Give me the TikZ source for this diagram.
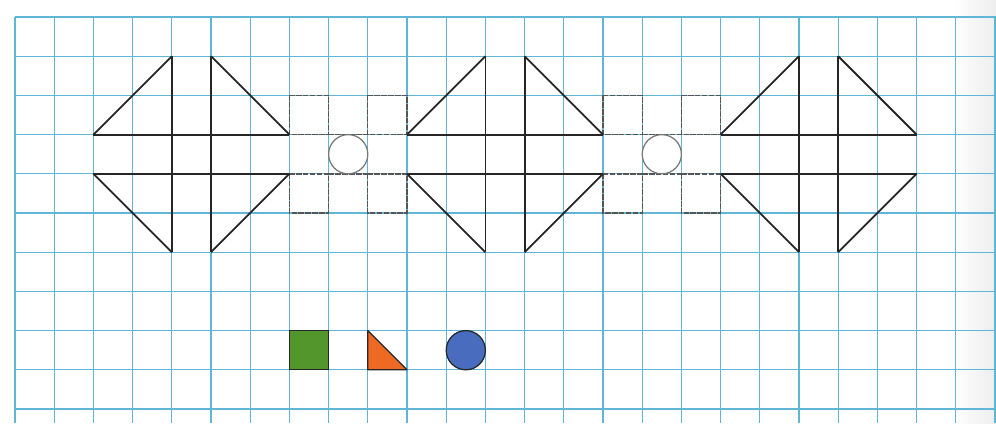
\documentclass[tikz,border=0pt]{standalone}
\definecolor{gridblue}{RGB}{96,182,214}
\definecolor{pencilgray}{RGB}{85,85,85}
\definecolor{shapegreen}{RGB}{82,150,44}
\definecolor{shapeorange}{RGB}{238,106,36}
\definecolor{shapeblue}{RGB}{74,108,190}
\begin{document}
\begin{tikzpicture}[x=1cm,y=1cm,
  gridline/.style={draw=gridblue, line width=0.9pt},
  figline/.style={draw=black!85, line width=1.3pt, line join=miter},
  pencil/.style={draw=pencilgray, line width=1pt, dash pattern=on 4pt off 1pt},
  shadeline/.style={line width=0.9pt, draw=black!85}]
\useasboundingbox (-0.383,0.434) rectangle (25.026,-10.357);
\fill[white] (-0.383,0.434) rectangle (25.026,-10.357);
\shade[left color=white, right color=black!7] (23.9,0.434) rectangle (25.026,-10.357);
% grid
\foreach \i in {0,...,25} \draw[gridline] (\i,0) -- (\i,-10.357);
\foreach \j in {0,...,10} \draw[gridline] (0,-\j) -- (25.026,-\j);
% pencil squares and circles
\foreach \b in {7,15} {
  \draw[pencil] (\b,-2) rectangle (\b+1,-3);
  \draw[pencil] (\b+2,-2) rectangle (\b+3,-3);
  \draw[pencil] (\b,-4) rectangle (\b+1,-5);
  \draw[pencil] (\b+2,-4) rectangle (\b+3,-5);
  \draw[pencil] (\b+1,-3) -- (\b+2,-3);
  \draw[pencil] (\b+1,-4) -- (\b+2,-4);
  \draw[draw=pencilgray!80, line width=0.9pt] (\b+1.5,-3.5) circle (0.5);
}
% bow-tie figures
\foreach \a in {2,10,18} {
  \draw[figline] (\a,-3) -- (\a+5,-3);
  \draw[figline] (\a,-4) -- (\a+5,-4);
  \draw[figline] (\a+2,-1) -- (\a+2,-6);
  \draw[figline] (\a+3,-1) -- (\a+3,-6);
  \draw[figline] (\a+2,-1) -- (\a,-3);
  \draw[figline] (\a,-4) -- (\a+2,-6);
  \draw[figline] (\a+3,-1) -- (\a+5,-3);
  \draw[figline] (\a+5,-4) -- (\a+3,-6);
}
% coloured shapes
\draw[shadeline, fill=shapegreen] (7,-8) rectangle (8,-9);
\draw[shadeline, fill=shapeorange, line join=round] (9,-8) -- (9,-9) -- (10,-9) -- cycle;
\draw[shadeline, fill=shapeblue] (11.5,-8.5) circle (0.5);
\end{tikzpicture}
\end{document}
